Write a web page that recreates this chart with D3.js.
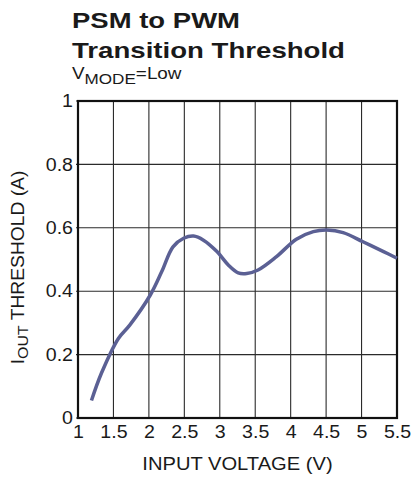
<!DOCTYPE html>
<html>
<head>
<meta charset="utf-8">
<script src="https://cdn.jsdelivr.net/npm/d3@7"></script>
<style>
  body { margin: 0; background: #fff; }
  text { font-family: "Liberation Sans", Arial, sans-serif; fill: #1a1a1a; }
</style>
</head>
<body>
<div id="wrapper"></div>
<script>
// data
const inputVoltage = [1.19, 1.33, 1.57, 1.73, 2.02, 2.18, 2.34, 2.49, 2.63, 2.77, 2.96, 3.12, 3.26, 3.38, 3.54, 3.80, 4.08, 4.32, 4.51, 4.74, 5.02, 5.31, 5.5]
const threshold = [0.055, 0.141, 0.251, 0.293, 0.388, 0.461, 0.540, 0.567, 0.574, 0.561, 0.525, 0.483, 0.458, 0.456, 0.467, 0.509, 0.564, 0.588, 0.593, 0.585, 0.556, 0.525, 0.504]
const xTicks = [1, 1.5, 2, 2.5, 3, 3.5, 4, 4.5, 5, 5.5]
const yTicks = [0, 0.2, 0.4, 0.6, 0.8, 1]

const data = inputVoltage.map((v, i) => ({ v, a: threshold[i] }))

const dimensions = {
  width: 420,
  height: 477,
  margin: { top: 101, right: 23, bottom: 59, left: 78 }
}
dimensions.boundedWidth = dimensions.width - dimensions.margin.left - dimensions.margin.right
dimensions.boundedHeight = dimensions.height - dimensions.margin.top - dimensions.margin.bottom

// the original lettering is a bit wider than Arial, so stretch around the anchor
const stretch = (x, sx) => `translate(${x},0) scale(${sx},1) translate(${-x},0)`

const svg = d3.select("#wrapper")
  .append("svg")
  .attr("width", dimensions.width)
  .attr("height", dimensions.height)

const bounds = svg.append("g")
  .attr("transform", `translate(${dimensions.margin.left},${dimensions.margin.top})`)

const xScale = d3.scaleLinear()
  .domain([1, 5.5])
  .range([0, dimensions.boundedWidth])

const yScale = d3.scaleLinear()
  .domain([0, 1])
  .range([dimensions.boundedHeight, 0])

// grid
bounds.append("g")
  .selectAll("line")
  .data(xTicks)
  .join("line")
  .attr("x1", d => xScale(d))
  .attr("x2", d => xScale(d))
  .attr("y1", 0)
  .attr("y2", dimensions.boundedHeight)
  .attr("stroke", "#2b2b2b")
  .attr("stroke-width", 1.1)

bounds.append("g")
  .selectAll("line")
  .data(yTicks)
  .join("line")
  .attr("x1", -2)
  .attr("x2", dimensions.boundedWidth)
  .attr("y1", d => yScale(d))
  .attr("y2", d => yScale(d))
  .attr("stroke", "#2b2b2b")
  .attr("stroke-width", 1.1)

// tick labels
const xAxis = bounds.append("g")
  .attr("transform", `translate(0,${dimensions.boundedHeight})`)
  .call(d3.axisBottom(xScale).tickValues(xTicks).tickSize(0).tickPadding(8).tickFormat(d3.format("")))
xAxis.select(".domain").remove()
xAxis.selectAll("text")
  .style("font-size", "17.5px")
  .attr("font-family", null)
  .attr("dy", "0.71em")
  .attr("transform", stretch(0, 1.12))

const yAxis = bounds.append("g")
  .call(d3.axisLeft(yScale).tickValues(yTicks).tickSize(0).tickPadding(5).tickFormat(d3.format("")))
yAxis.select(".domain").remove()
yAxis.selectAll("text")
  .style("font-size", "17.5px")
  .attr("font-family", null)
  .attr("transform", stretch(-5, 1.12))

// frame
bounds.append("rect")
  .attr("width", dimensions.boundedWidth)
  .attr("height", dimensions.boundedHeight)
  .attr("fill", "none")
  .attr("stroke", "#111")
  .attr("stroke-width", 2.2)

// curve
const lineGenerator = d3.line()
  .x(d => xScale(d.v))
  .y(d => yScale(d.a))
  .curve(d3.curveCatmullRom)

bounds.append("path")
  .datum(data)
  .attr("d", lineGenerator)
  .attr("fill", "none")
  .attr("stroke", "#5b6094")
  .attr("stroke-width", 3.5)

// titles
svg.append("text")
  .attr("x", 72).attr("y", 28)
  .style("font-size", "22.5px").style("font-weight", "bold")
  .attr("textLength", 168).attr("lengthAdjust", "spacingAndGlyphs")
  .text("PSM to PWM")
svg.append("text")
  .attr("x", 72).attr("y", 58)
  .style("font-size", "22.5px").style("font-weight", "bold")
  .attr("textLength", 273).attr("lengthAdjust", "spacingAndGlyphs")
  .text("Transition Threshold")

const sub = svg.append("text")
  .attr("x", 72).attr("y", 79)
  .style("font-size", "16px")
  .attr("transform", stretch(72, 1.18))
sub.append("tspan").text("V")
sub.append("tspan").attr("dy", 5).style("font-size", "14.5px").text("MODE")
sub.append("tspan").attr("dy", -5).text("=Low")

// axis titles
const xMid = dimensions.margin.left + dimensions.boundedWidth / 2
svg.append("text")
  .attr("x", xMid)
  .attr("y", 470)
  .attr("text-anchor", "middle")
  .style("font-size", "18px")
  .attr("transform", stretch(xMid, 1.12))
  .text("INPUT VOLTAGE (V)")

const yLabel = svg.append("text")
  .attr("transform", `translate(24,${dimensions.margin.top + dimensions.boundedHeight / 2 + 8}) rotate(-90) scale(1.1,1)`)
  .attr("text-anchor", "middle")
  .style("font-size", "17.5px")
yLabel.append("tspan").text("I")
yLabel.append("tspan").attr("dy", 4).style("font-size", "14.5px").text("OUT")
yLabel.append("tspan").attr("dy", -4).text(" THRESHOLD (A)")
</script>
</body>
</html>
